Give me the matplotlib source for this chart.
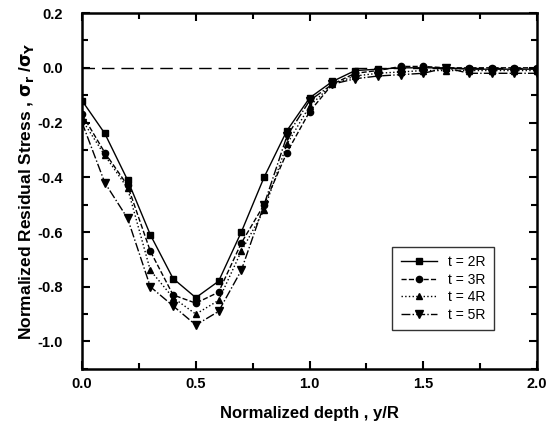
import numpy as np
import matplotlib.pyplot as plt
from matplotlib.ticker import MultipleLocator

plt.rcParams['font.family'] = ['Liberation Sans', 'DejaVu Sans']

# normalized depth y/R
depth = [0.0, 0.1, 0.2, 0.3, 0.4, 0.5, 0.6, 0.7, 0.8, 0.9, 1.0,
         1.1, 1.2, 1.3, 1.4, 1.5, 1.6, 1.7, 1.8, 1.9, 2.0]

# normalized residual stress for each thickness
t2R = [-0.12, -0.24, -0.41, -0.61, -0.77, -0.84, -0.78, -0.60, -0.40, -0.23, -0.11,
       -0.05, -0.01, -0.005, 0.0, 0.0, 0.0, -0.005, -0.005, -0.005, -0.005]
t3R = [-0.17, -0.31, -0.43, -0.67, -0.83, -0.86, -0.82, -0.64, -0.50, -0.31, -0.16,
       -0.06, -0.02, -0.01, 0.005, 0.005, 0.0, 0.0, 0.0, 0.0, 0.0]
t4R = [-0.19, -0.32, -0.44, -0.74, -0.84, -0.90, -0.85, -0.67, -0.52, -0.28, -0.14,
       -0.06, -0.03, -0.02, -0.015, -0.01, -0.01, -0.01, -0.01, -0.01, -0.01]
t5R = [-0.20, -0.42, -0.55, -0.80, -0.87, -0.94, -0.89, -0.74, -0.50, -0.25, -0.12,
       -0.06, -0.04, -0.03, -0.025, -0.02, 0.0, -0.02, -0.02, -0.02, -0.02]

labels = ["t = 2R", "t = 3R", "t = 4R", "t = 5R"]

fig = plt.figure(figsize=(5.47, 4.22), dpi=100)
ax = fig.add_axes([0.150, 0.126, 0.832, 0.843])

ax.axhline(0, color="black", linestyle=(0, (9, 5)), linewidth=1.0)

ax.plot(depth, t2R, color="black", linestyle="-", linewidth=1.0,
        marker="s", markersize=4.5, label=labels[0])
ax.plot(depth, t3R, color="black", linestyle="--", linewidth=1.0,
        marker="o", markersize=4.5, label=labels[1])
ax.plot(depth, t4R, color="black", linestyle=":", linewidth=1.0,
        marker="^", markersize=4.5, label=labels[2])
ax.plot(depth, t5R, color="black", linestyle="-.", linewidth=1.0,
        marker="v", markersize=5.5, label=labels[3])

ax.set_xlim(0, 2.0)
ax.set_ylim(-1.1, 0.2)
ax.xaxis.set_major_locator(MultipleLocator(0.5))
ax.xaxis.set_minor_locator(MultipleLocator(0.25))
ax.yaxis.set_major_locator(MultipleLocator(0.2))
ax.yaxis.set_minor_locator(MultipleLocator(0.1))
ax.xaxis.set_major_formatter(plt.FormatStrFormatter("%.1f"))
ax.yaxis.set_major_formatter(plt.FormatStrFormatter("%.1f"))

ax.tick_params(which="both", direction="in", top=True, right=True, width=1.5)
ax.tick_params(which="major", length=6, labelsize=10.5)
ax.tick_params(axis="y", which="major", pad=14)
ax.tick_params(axis="x", which="major", pad=6)
ax.tick_params(which="minor", length=4)
for lbl in ax.get_xticklabels() + ax.get_yticklabels():
    lbl.set_fontweight("bold")
for sp in ax.spines.values():
    sp.set_linewidth(1.8)

ax.set_xlabel("Normalized depth , y/R", fontsize=12, fontweight="bold", labelpad=11)
ax.set_ylabel(r"Normalized Residual Stress , $\mathbf{\sigma_r}$ /$\mathbf{\sigma_Y}$",
              fontsize=12.5, fontweight="bold", labelpad=1)

leg = ax.legend(loc="lower right", bbox_to_anchor=(0.92, 0.09), fontsize=10,
                frameon=True, fancybox=False, edgecolor="black",
                handlelength=2.6, labelspacing=0.25, borderpad=0.6)
leg.get_frame().set_linewidth(1.0)

fig.savefig("out.png", dpi=100)
